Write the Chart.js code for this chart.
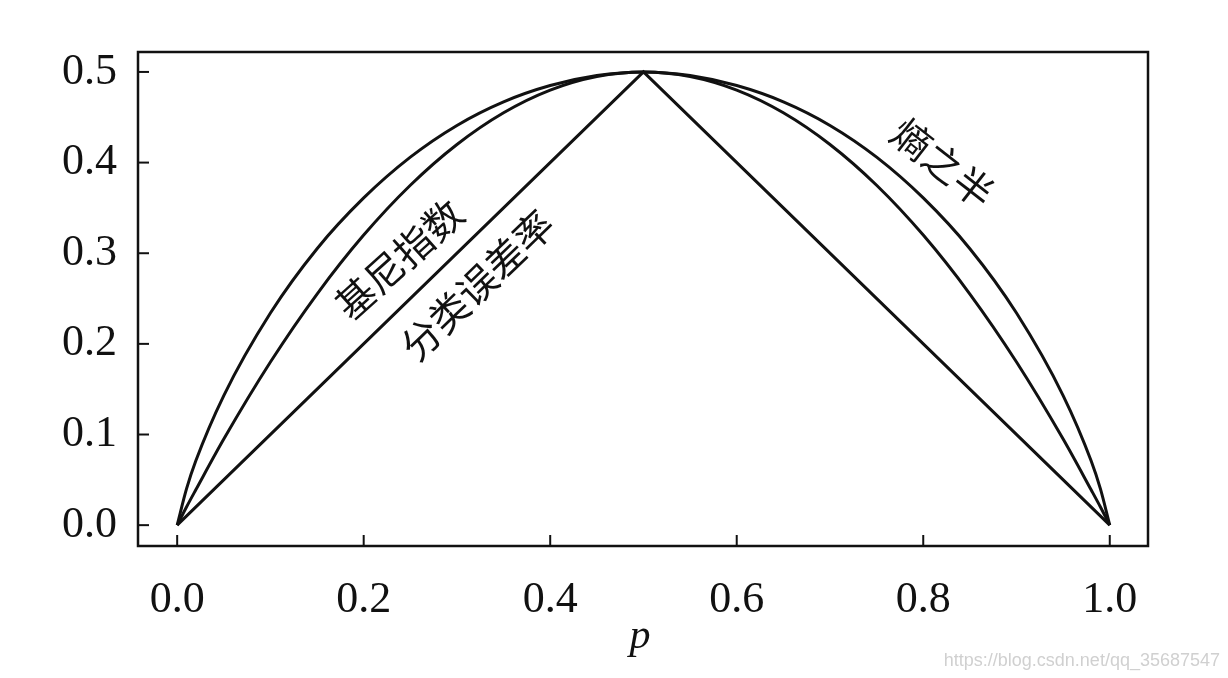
<!DOCTYPE html>
<html>
<head>
<meta charset="utf-8">
<script src="https://cdn.jsdelivr.net/npm/chart.js@4/dist/chart.umd.min.js"></script>
<style>
  html, body { margin: 0; padding: 0; background: #fff; }
  #wrap { width: 1228px; height: 678px; position: relative; }
</style>
</head>
<body>
<div id="wrap"><canvas id="impurityChart" width="1228" height="678"></canvas></div>
<script>
// values
const pValues = [0, 0.01, 0.02, 0.05, 0.1, 0.15, 0.2, 0.25, 0.3, 0.35, 0.4, 0.45, 0.5,
                 0.55, 0.6, 0.65, 0.7, 0.75, 0.8, 0.85, 0.9, 0.95, 0.98, 0.99, 1];
const entropyHalf = [0, 0.040, 0.071, 0.143, 0.234, 0.305, 0.361, 0.406, 0.441, 0.467, 0.485, 0.496, 0.5,
                     0.496, 0.485, 0.467, 0.441, 0.406, 0.361, 0.305, 0.234, 0.143, 0.071, 0.040, 0];
const giniIndex = [0, 0.020, 0.039, 0.095, 0.180, 0.255, 0.320, 0.375, 0.420, 0.455, 0.480, 0.495, 0.5,
                   0.495, 0.480, 0.455, 0.420, 0.375, 0.320, 0.255, 0.180, 0.095, 0.039, 0.020, 0];
const errorP = [0, 0.5, 1];
const errorRate = [0, 0.5, 0];

const xTicks = [0, 0.2, 0.4, 0.6, 0.8, 1.0];
const yTicks = [0, 0.1, 0.2, 0.3, 0.4, 0.5];

function toPoints(xs, ys) {
    return xs.map((x, i) => ({ x: x, y: ys[i] }));
}

const serif = '"Liberation Serif", "DejaVu Serif", serif';

// inward ticks, frame and text labels
const decorPlugin = {
    id: 'decor',
    afterDraw(chart) {
        const c = chart.ctx;
        const a = chart.chartArea;
        const xs = chart.scales.x, ys = chart.scales.y;
        c.save();
        c.strokeStyle = '#111';
        c.lineWidth = 2.5;
        c.strokeRect(a.left, a.top, a.right - a.left, a.bottom - a.top);
        c.lineWidth = 2;
        xTicks.forEach(v => {
            const px = xs.getPixelForValue(v);
            c.beginPath(); c.moveTo(px, a.bottom); c.lineTo(px, a.bottom - 11); c.stroke();
        });
        yTicks.forEach(v => {
            const py = ys.getPixelForValue(v);
            c.beginPath(); c.moveTo(a.left, py); c.lineTo(a.left + 11, py); c.stroke();
        });

        // axis title
        c.fillStyle = '#111';
        c.font = 'italic 42px ' + serif;
        c.textAlign = 'center';
        c.textBaseline = 'alphabetic';
        c.fillText('p', 640, 648);

        // curve names
        c.font = '39px "Noto Sans CJK SC", sans-serif';
        c.textBaseline = 'middle';
        const names = [
            { text: '基尼指数', x: 399, y: 259, rot: -42 },
            { text: '分类误差率', x: 477, y: 285, rot: -44 },
            { text: '熵之半', x: 943, y: 163, rot: 38 }
        ];
        names.forEach(n => {
            c.save();
            c.translate(n.x, n.y);
            c.rotate(n.rot * Math.PI / 180);
            c.fillText(n.text, 0, 0);
            c.restore();
        });

        // watermark
        c.fillStyle = '#d0d0d0';
        c.font = '18px "Liberation Sans Narrow", "Liberation Sans", sans-serif';
        c.textAlign = 'right';
        c.fillText('https://blog.csdn.net/qq_35687547', 1220, 661);
        c.restore();
    }
};

const lineStyle = {
    borderColor: '#111',
    borderWidth: 3,
    pointRadius: 0,
    fill: false
};

new Chart(document.getElementById('impurityChart'), {
    type: 'line',
    data: {
        datasets: [
            Object.assign({ label: '熵之半', data: toPoints(pValues, entropyHalf), cubicInterpolationMode: 'monotone' }, lineStyle),
            Object.assign({ label: '基尼指数', data: toPoints(pValues, giniIndex), cubicInterpolationMode: 'monotone' }, lineStyle),
            Object.assign({ label: '分类误差率', data: toPoints(errorP, errorRate), tension: 0 }, lineStyle)
        ]
    },
    options: {
        responsive: false,
        animation: false,
        layout: { padding: { left: 0, top: 52, right: 80, bottom: 0 } },
        plugins: { legend: { display: false }, tooltip: { enabled: false } },
        scales: {
            x: {
                type: 'linear',
                min: -0.042,
                max: 1.041,
                afterBuildTicks(scale) { scale.ticks = xTicks.map(v => ({ value: v })); },
                afterFit(scale) { scale.height = 132; },
                grid: { drawOnChartArea: false, drawTicks: false },
                border: { display: false },
                ticks: {
                    color: '#111',
                    padding: 28,
                    maxRotation: 0,
                    font: { family: serif, size: 44 },
                    callback: v => Number(v).toFixed(1)
                }
            },
            y: {
                type: 'linear',
                min: -0.023,
                max: 0.522,
                afterBuildTicks(scale) { scale.ticks = yTicks.map(v => ({ value: v })); },
                afterFit(scale) { scale.width = 138; },
                grid: { drawOnChartArea: false, drawTicks: false },
                border: { display: false },
                ticks: {
                    color: '#111',
                    padding: 21,
                    font: { family: serif, size: 44 },
                    callback: v => Number(v).toFixed(1)
                }
            }
        }
    },
    plugins: [decorPlugin]
});
</script>
</body>
</html>
